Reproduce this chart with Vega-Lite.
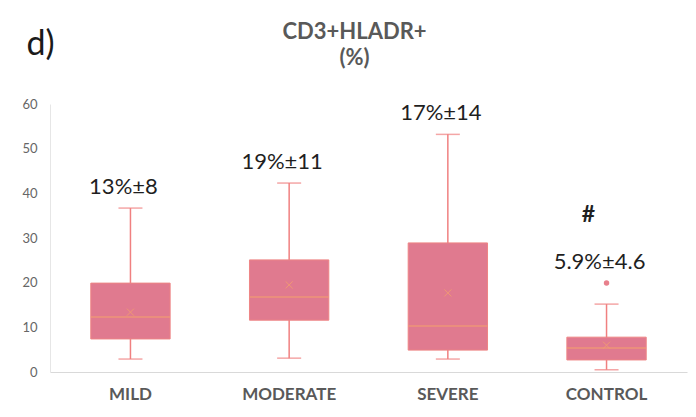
{
  "$schema": "https://vega.github.io/schema/vega-lite/v6.json",
  "width": 637,
  "height": 268,
  "autosize": {"type": "none"},
  "padding": {"left": 50, "top": 104, "right": 9, "bottom": 45},
  "background": "white",
  "config": {
    "view": {"stroke": null},
    "font": "Lato",
    "axis": {"grid": false, "ticks": false}
  },
  "title": {
    "text": ["CD3+HLADR+", "(%)"],
    "fontSize": 22,
    "fontWeight": "bold",
    "color": "#595959",
    "font": "Lato",
    "lineHeight": 26,
    "anchor": "middle",
    "frame": "group",
    "dx": -14,
    "offset": -43
  },
  "data": {
    "values": [
      {"group": "MILD", "min": 2.9, "q1": 7.4, "median": 12.3, "q3": 19.9, "max": 36.7, "mean": 13.4, "label": "13%±8"},
      {"group": "MODERATE", "min": 3.1, "q1": 11.6, "median": 16.8, "q3": 25.1, "max": 42.3, "mean": 19.5, "label": "19%±11"},
      {"group": "SEVERE", "min": 2.9, "q1": 4.9, "median": 10.3, "q3": 28.9, "max": 53.2, "mean": 17.7, "label": "17%±14"},
      {"group": "CONTROL", "min": 0.5, "q1": 2.7, "median": 5.4, "q3": 7.8, "max": 15.2, "mean": 6.0, "outlier": 19.9, "label": "5.9%±4.6", "sig": "#"}
    ]
  },
  "encoding": {
    "x": {
      "field": "group",
      "type": "nominal",
      "sort": ["MILD", "MODERATE", "SEVERE", "CONTROL"],
      "scale": {"type": "band", "paddingInner": 0.5, "paddingOuter": 0.257},
      "axis": {
        "title": null,
        "labelAngle": 0,
        "labelFont": "Lato",
        "labelFontSize": 17,
        "labelFontWeight": "bold",
        "labelColor": "#595959",
        "labelPadding": 14,
        "domainColor": "#d9d9d9",
        "domainWidth": 1
      }
    }
  },
  "resolve": {"axis": {"y": "independent"}},
  "layer": [
    {
      "mark": {"type": "rule", "color": "#F08080", "strokeWidth": 1.5},
      "encoding": {
        "y": {
          "field": "min",
          "type": "quantitative",
          "scale": {"domain": [0, 60], "nice": false},
          "axis": {
            "values": [0, 10, 20, 30, 40, 50, 60],
            "labelFont": "Lato",
            "labelFontSize": 13,
            "labelColor": "#666666",
            "labelPadding": 13,
            "domainColor": "#e6e6e6",
            "title": "d)",
            "titleFont": "Lato",
            "titleFontSize": 34,
            "titleFontWeight": "normal",
            "titleColor": "#1a1a1a",
            "titleAngle": 0,
            "titleAlign": "left",
            "titleBaseline": "middle",
            "titleX": -24,
            "titleY": -60
          }
        },
        "y2": {"field": "max"}
      }
    },
    {
      "mark": {"type": "bar", "fill": "#E07A8F", "stroke": "#EE8585", "strokeWidth": 1},
      "encoding": {
        "y": {"field": "q1", "type": "quantitative", "axis": null},
        "y2": {"field": "q3"}
      }
    },
    {
      "mark": {"type": "tick", "color": "#F4A06E", "thickness": 1.5, "size": 79},
      "encoding": {
        "y": {"field": "median", "type": "quantitative", "axis": null}
      }
    },
    {
      "mark": {"type": "tick", "color": "#F08080", "thickness": 1.5, "size": 24},
      "encoding": {
        "y": {"field": "min", "type": "quantitative", "axis": null}
      }
    },
    {
      "mark": {"type": "tick", "color": "#F08080", "thickness": 1.5, "size": 24},
      "encoding": {
        "y": {"field": "max", "type": "quantitative", "axis": null}
      }
    },
    {
      "mark": {"type": "point", "shape": "M-1,-1L1,1M-1,1L1,-1", "filled": false, "stroke": "#F4A06E", "strokeWidth": 1, "size": 50, "opacity": 0.8},
      "encoding": {
        "y": {"field": "mean", "type": "quantitative", "axis": null}
      }
    },
    {
      "transform": [{"filter": "isValid(datum.outlier)"}],
      "mark": {"type": "point", "shape": "circle", "filled": true, "color": "#E8808C", "size": 30, "opacity": 1},
      "encoding": {
        "y": {"field": "outlier", "type": "quantitative", "axis": null}
      }
    },
    {
      "transform": [{"calculate": "isValid(datum.outlier) ? max(datum.max, datum.outlier) : datum.max", "as": "top"}],
      "mark": {"type": "text", "font": "Lato", "fontSize": 22, "color": "#1f1f1f", "baseline": "middle", "dy": -21, "dx": -7},
      "encoding": {
        "y": {"field": "top", "type": "quantitative", "axis": null},
        "text": {"field": "label"}
      }
    },
    {
      "transform": [
        {"filter": "isValid(datum.sig)"},
        {"calculate": "isValid(datum.outlier) ? max(datum.max, datum.outlier) : datum.max", "as": "top"}
      ],
      "mark": {"type": "text", "font": "Lato", "fontSize": 23, "fontWeight": "bold", "color": "#1f1f1f", "baseline": "middle", "dy": -68, "dx": -18},
      "encoding": {
        "y": {"field": "top", "type": "quantitative", "axis": null},
        "text": {"field": "sig"}
      }
    }
  ]
}
